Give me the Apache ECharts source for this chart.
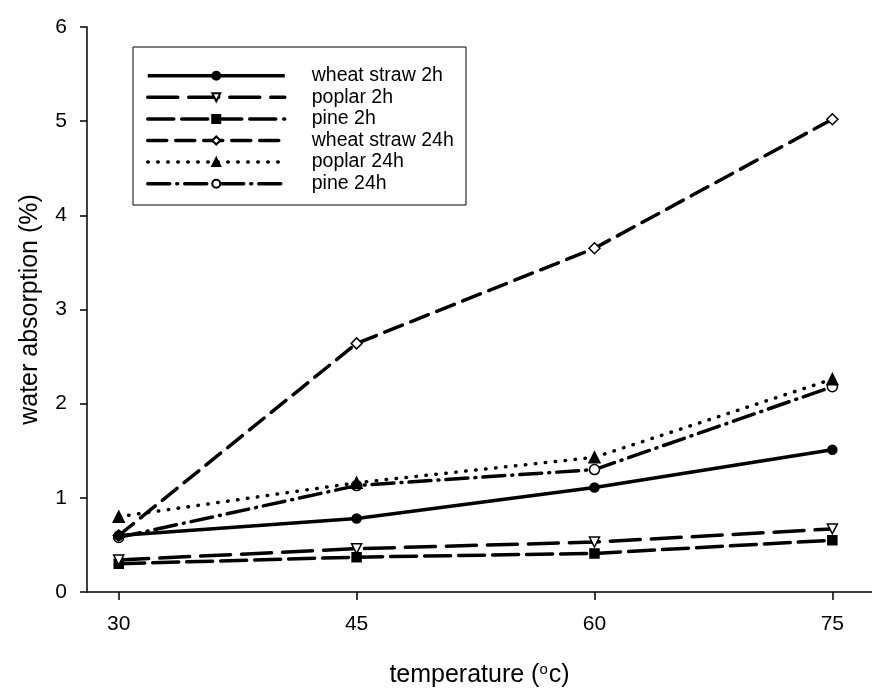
<!DOCTYPE html>
<html>
<head>
<meta charset="utf-8">
<script src="https://cdn.jsdelivr.net/npm/echarts@6/dist/echarts.min.js"></script>
<style>html,body{margin:0;padding:0;background:#fff}#c{width:872px;height:688px}</style>
</head>
<body>
<div id="c"></div>
<script>
const temperatures = [30, 45, 60, 75];
const xTicks = [30, 45, 60, 75];
const seriesNames = ['wheat straw 2h', 'poplar 2h', 'pine 2h', 'wheat straw 24h', 'poplar 24h', 'pine 24h'];
const wheatStraw2h = [0.60, 0.78, 1.11, 1.51];
const poplar2h = [0.34, 0.46, 0.53, 0.67];
const pine2h = [0.30, 0.37, 0.41, 0.55];
const wheatStraw24h = [0.60, 2.64, 3.65, 5.02];
const poplar24h = [0.80, 1.16, 1.43, 2.26];
const pine24h = [0.58, 1.13, 1.30, 2.18];

const values = [wheatStraw2h, poplar2h, pine2h, wheatStraw24h, poplar24h, pine24h];
const styles = [
  {symbol: 'circle', fill: '#000', rot: 0, dash: 'solid', cap: 'butt', size: 9},
  {symbol: 'triangle', fill: '#fff', rot: 180, dash: [30, 11], cap: 'round', size: 10},
  {symbol: 'rect', fill: '#000', rot: 0, dash: [26, 8], cap: 'round', size: 9},
  {symbol: 'diamond', fill: '#fff', rot: 0, dash: [19, 9], cap: 'round', size: 11},
  {symbol: 'triangle', fill: '#000', rot: 0, dash: [0.5, 9.5], cap: 'round', size: 11},
  {symbol: 'circle', fill: '#fff', rot: 0, dash: [22, 7, 1, 7], cap: 'round', size: 10}
];

const chart = echarts.init(document.getElementById('c'), null, {renderer: 'canvas'});
const font = '"Liberation Sans", Arial, sans-serif';

const series = seriesNames.map((name, i) => ({
  name: name,
  type: 'line',
  data: temperatures.map((t, j) => [t, values[i][j]]),
  symbol: styles[i].symbol,
  symbolSize: styles[i].size,
  symbolRotate: styles[i].rot,
  showAllSymbol: true,
  z: 10 - i,
  lineStyle: {color: '#000', width: 3.5, type: styles[i].dash, cap: styles[i].cap},
  itemStyle: {color: styles[i].fill, borderColor: '#000', borderWidth: 1.5},
  emphasis: {disabled: true},
  animation: false
}));

chart.setOption({
  backgroundColor: '#fff',
  animation: false,
  grid: {left: 87, right: 0, top: 27, bottom: 96, containLabel: false, outerBoundsMode: 'none'},
  xAxis: {
    type: 'value',
    min: 28, max: 77.5,
    splitLine: {show: false},
    axisLine: {lineStyle: {color: '#000', width: 1.5}},
    axisTick: {show: true, length: 8, lineStyle: {color: '#000', width: 1.5}, customValues: xTicks},
    axisLabel: {color: '#000', fontSize: 21, fontFamily: font, margin: 22, customValues: xTicks},
    name: 'temperature ({sup|o}c)',
    nameLocation: 'middle',
    nameGap: 70,
    nameTextStyle: {color: '#000', fontSize: 25, fontFamily: font, rich: {sup: {fontSize: 15, fontFamily: font, verticalAlign: 'top', padding: [0, 1, 12, 0], color: '#000'}}}
  },
  yAxis: {
    type: 'value',
    min: 0, max: 6, interval: 1,
    splitLine: {show: false},
    axisLine: {show: true, lineStyle: {color: '#000', width: 1.5}},
    axisTick: {show: true, length: 7, lineStyle: {color: '#000', width: 1.5}},
    axisLabel: {color: '#000', fontSize: 21, fontFamily: font, margin: 20},
    name: 'water absorption (%)',
    nameLocation: 'middle',
    nameGap: 44,
    nameTextStyle: {color: '#000', fontSize: 25, fontFamily: font}
  },
  legend: {
    orient: 'vertical',
    left: 146,
    top: 65.7,
    padding: 0,
    itemWidth: 137,
    itemHeight: 10,
    itemGap: 1.6,
    data: seriesNames,
    lineStyle: {width: 3.5},
    textStyle: {color: '#000', fontSize: 19.5, lineHeight: 20, fontFamily: font, padding: [0, 0, 0, 22]},
    selectedMode: false
  },
  graphic: [{
    type: 'rect',
    shape: {x: 133, y: 47, width: 333, height: 158},
    style: {fill: 'none', stroke: '#000', lineWidth: 1},
    z: 100
  }],
  series: series
});
</script>
</body>
</html>
